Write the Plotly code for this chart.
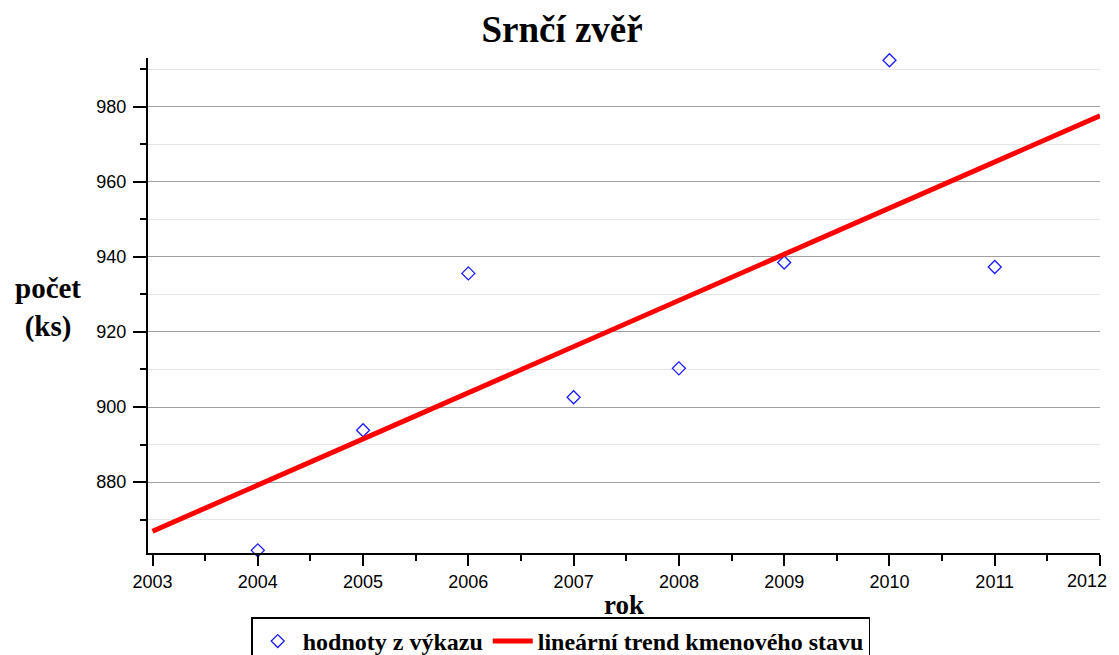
import plotly.graph_objects as go

years = [2004, 2005, 2006, 2007, 2008, 2009, 2010, 2011]
counts = [861.8, 893.8, 935.6, 902.6, 910.3, 938.5, 992.4, 937.3]
trend_years = [2003, 2012]
trend_counts = [866.9, 977.6]
x_ticks = [2003, 2004, 2005, 2006, 2007, 2008, 2009, 2010, 2011, 2012]
y_ticks = [880, 900, 920, 940, 960, 980]

serif = "Liberation Serif"
sans = "Liberation Sans"

fig = go.Figure()
fig.add_trace(go.Scatter(
    x=years, y=counts, mode="markers", name="hodnoty z výkazu", cliponaxis=False,
    marker=dict(symbol="diamond-open", size=10, color="#1a1aff", line=dict(width=1.3)),
))
fig.add_trace(go.Scatter(
    x=trend_years, y=trend_counts, mode="lines", name="lineární trend kmenového stavu",
    line=dict(color="#ff0000", width=5),
))

fig.update_layout(
    width=1111, height=647,
    margin=dict(l=140, r=19, t=50, b=102, autoexpand=False),
    paper_bgcolor="white", plot_bgcolor="white",
    title=dict(text="<b>Srnčí zvěř</b>", xref="container", x=0.4987, xanchor="center",
               yref="container", y=0.9675, yanchor="middle",
               font=dict(family=serif, size=37, color="black")),
    showlegend=True,
    legend=dict(orientation="h", xref="container", x=0.4975, xanchor="center",
                yref="container", y=0.058, yanchor="top",
                bordercolor="black", borderwidth=1.5, bgcolor="white",
                font=dict(family=serif, size=24, color="black", weight="bold"),
                itemwidth=40, tracegroupgap=0),
    font=dict(family=sans, size=18, color="black"),
)

# last year's label is drawn as an annotation so it stays inside the window
x_ticktext = [str(v) for v in x_ticks[:-1]] + [""]

fig.update_xaxes(
    range=[2002.957, 2012.0], tickvals=x_ticks, ticktext=x_ticktext,
    showgrid=False, zeroline=False, automargin=False,
    showline=True, linecolor="black", linewidth=2,
    ticks="outside", ticklen=11, tickwidth=1.5, tickcolor="black",
    ticklabelstandoff=0, ticklabeloverflow="allow",
    tickfont=dict(family=sans, size=18, color="black"),
    minor=dict(dtick=0.5, tick0=2003, ticks="outside", ticklen=6, tickcolor="black", showgrid=False),
)
fig.update_yaxes(
    range=[861.1, 993.0], tickvals=y_ticks, ticktext=[str(v) for v in y_ticks],
    showgrid=True, gridcolor="#a0a0a0", gridwidth=1.3, zeroline=False, automargin=False,
    showline=True, linecolor="black", linewidth=2,
    ticks="outside", ticklen=13, tickwidth=1.5, tickcolor="black",
    ticklabelstandoff=3,
    tickfont=dict(family=sans, size=18, color="black"),
    minor=dict(dtick=10, tick0=880, ticks="outside", ticklen=6, tickcolor="black",
               showgrid=True, gridcolor="#e6e6e6", gridwidth=1.3),
)

fig.add_annotation(
    text=str(x_ticks[-1]), xref="x", yref="paper", x=x_ticks[-1], y=0,
    xanchor="right", yanchor="middle", xshift=9, yshift=-28, showarrow=False,
    font=dict(family=sans, size=18, color="black"),
)
fig.add_annotation(
    text="<b>počet<br>(ks)</b>", xref="paper", yref="paper", x=-0.105, y=0.495,
    xanchor="center", yanchor="middle", showarrow=False,
    font=dict(family=serif, size=29, color="black"),
)
fig.add_annotation(
    text="<b>rok</b>", xref="paper", yref="paper", x=0.5, y=-0.105,
    xanchor="center", yanchor="middle", showarrow=False,
    font=dict(family=serif, size=27, color="black"),
)

fig.write_html("out.html")
